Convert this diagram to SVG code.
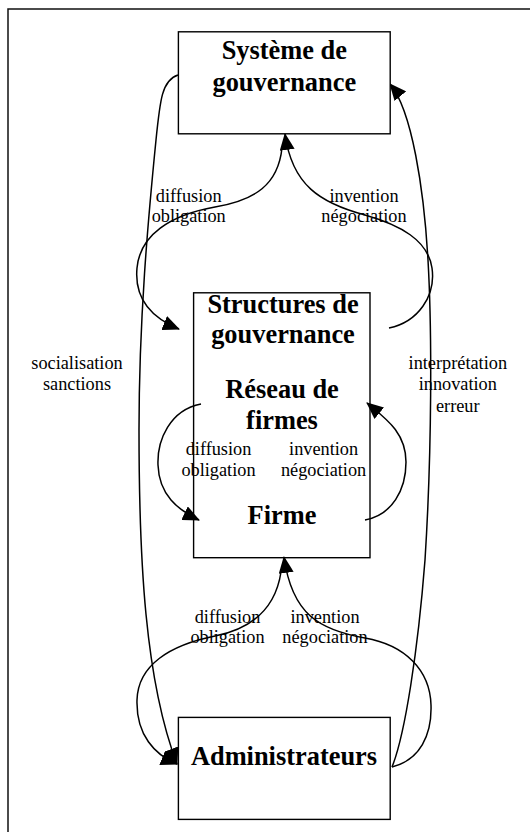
<svg xmlns="http://www.w3.org/2000/svg" width="530" height="832" viewBox="0 0 530 832">
  <style>
    .frame { fill: none; stroke: #111; stroke-width: 1.5; }
    .box { fill: #fff; stroke: #000; stroke-width: 1.4; }
    .title { font-family: "Liberation Serif", "Times New Roman", serif; font-weight: bold; font-size: 26.4px; text-anchor: middle; fill: #000; }
    .lbl { font-family: "Liberation Serif", "Times New Roman", serif; font-size: 18.3px; text-anchor: middle; fill: #000; }
    .edge { fill: none; stroke: #000; stroke-width: 1.5; }
    .arrow { marker-end: url(#head); }
  </style>
  <defs>
    <marker id="head" viewBox="0 0 17 15" refX="16" refY="7.5" markerWidth="17" markerHeight="15" markerUnits="userSpaceOnUse" orient="auto">
      <path d="M0,0 L17,7.5 L0,15 Z" fill="#000"/>
    </marker>
  </defs>

  <rect width="530" height="832" fill="#fff"/>
  <!-- page frame (top and left edges only) -->
  <path class="frame" d="M8,832 L8,9 L530,9"/>

  <g id="connectors">
    <!-- Structures -> Système : invention / négociation -->
    <path class="edge arrow" d="M389,328 C418,322 436,296 432,268 C428,240 400,225 365,215 C320,203 292,185 285,134"/>
    <!-- Système -> Structures : diffusion / obligation -->
    <path class="edge arrow" d="M282,148 C278,185 255,200 215,207 C170,215 140,235 137,268 C134,300 152,318 179,329"/>
    <!-- Système -> Administrateurs : socialisation / sanctions -->
    <path class="edge arrow" d="M178,75 C162,80 160,100 156,140 C148,220 139,320 139,430 C139,560 145,680 177,764"/>
    <!-- Administrateurs -> Système : interprétation / innovation / erreur -->
    <path class="edge arrow" d="M392,767 C405,735 418,650 425,560 C432,450 432,330 428,260 C424,190 412,110 390,84"/>
    <!-- Structures -> Administrateurs : diffusion / obligation -->
    <path class="edge arrow" d="M281,572 C276,605 255,628 215,636 C170,645 138,665 137,700 C136,735 155,755 177,764"/>
    <!-- Administrateurs -> Structures : invention / négociation -->
    <path class="edge arrow" d="M392,767 C420,760 432,735 431,705 C430,670 405,645 365,638 C320,630 292,615 284,557"/>
    <!-- Réseau de firmes -> Firme -->
    <path class="edge arrow" d="M201,404 C170,410 157,440 158,465 C159,495 178,510 199,520"/>
    <!-- Firme -> Réseau de firmes -->
    <path class="edge arrow" d="M365,520 C392,515 406,490 406,462 C406,432 385,418 367,403"/>

    <g id="edge-labels">
      <text class="lbl" x="188.7" y="201.7">diffusion</text>
      <text class="lbl" x="188.7" y="222">obligation</text>
      <text class="lbl" x="364" y="201.7">invention</text>
      <text class="lbl" x="364" y="222">négociation</text>

      <text class="lbl" x="77" y="368.5">socialisation</text>
      <text class="lbl" x="77" y="389.8">sanctions</text>

      <text class="lbl" x="457.8" y="368.5">interprétation</text>
      <text class="lbl" x="457.8" y="389.8">innovation</text>
      <text class="lbl" x="457.8" y="411.8">erreur</text>

      <text class="lbl" x="227.5" y="622.8">diffusion</text>
      <text class="lbl" x="227.5" y="643">obligation</text>
      <text class="lbl" x="325" y="622.8">invention</text>
      <text class="lbl" x="325" y="643">négociation</text>
    </g>
  </g>

  <g id="node-systeme">
    <rect class="box" x="178.4" y="31.8" width="211.8" height="102"/>
    <text class="title" x="284.3" y="59.1">Système de</text>
    <text class="title" x="284.3" y="90.5">gouvernance</text>
  </g>

  <g id="node-structures">
    <rect class="box" x="193.6" y="292.8" width="176.4" height="264.9" fill-opacity="0"/>
    <text class="title" x="283" y="312.8">Structures de</text>
    <text class="title" x="283" y="343.2">gouvernance</text>
  </g>

  <g id="node-reseau">
    <text class="title" x="282" y="398.2">Réseau de</text>
    <text class="title" x="282" y="428.6">firmes</text>
  </g>

  <g id="node-firme">
    <text class="title" x="282" y="523.9">Firme</text>
  </g>

  <g id="inner-labels">
    <text class="lbl" x="218.5" y="454.7">diffusion</text>
    <text class="lbl" x="218.5" y="476">obligation</text>
    <text class="lbl" x="323.6" y="454.7">invention</text>
    <text class="lbl" x="323.6" y="476">négociation</text>
  </g>

  <g id="node-administrateurs">
    <rect class="box" x="178.4" y="717.4" width="211.8" height="102"/>
    <text class="title" x="284" y="764.7">Administrateurs</text>
  </g>
</svg>
